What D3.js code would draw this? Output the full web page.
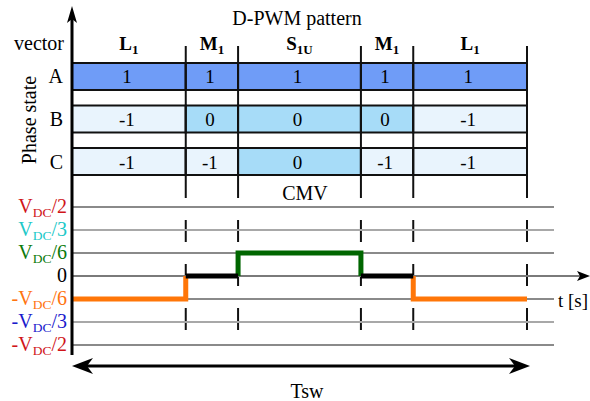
<!DOCTYPE html>
<html><head><meta charset="utf-8">
<script src="https://cdn.jsdelivr.net/npm/d3@7"></script>
<style>
html,body{margin:0;padding:0;background:#fff;}
svg{display:block;}
svg text{font-family:"Liberation Serif","Times New Roman",serif;}
</style></head>
<body>
<script>
// ---- data ----
const vectors = [
  {main:"L", sub:"1"},
  {main:"M", sub:"1"},
  {main:"S", sub:"1U"},
  {main:"M", sub:"1"},
  {main:"L", sub:"1"}
];
const bounds = [0, 0.25, 0.365, 0.635, 0.75, 1.0];   // normalized time within Tsw
const phases = ["A", "B", "C"];
const phaseA = [1, 1, 1, 1, 1];
const phaseB = [-1, 0, 0, 0, -1];
const phaseC = [-1, -1, 0, -1, -1];
const cmv = [-1/6, 0, 1/6, 0, -1/6];                 // in units of VDC
const levelValues = [1/2, 1/3, 1/6, 0, -1/6, -1/3, -1/2];
const levelLabels = [
  {sign:"", den:"2", color:"#d0141a"},
  {sign:"", den:"3", color:"#20c8c8"},
  {sign:"", den:"6", color:"#0b7a0b"},
  {sign:"0", den:null, color:"#000"},
  {sign:"-", den:"6", color:"#ff7410"},
  {sign:"-", den:"3", color:"#1a1acc"},
  {sign:"-", den:"2", color:"#d0141a"}
];

const W = 590, H = 401;
const svg = d3.select("body").append("svg").attr("width", W).attr("height", H)
  .attr("font-family", "Liberation Serif, Times New Roman, serif");

const x = d3.scaleLinear().domain([0, 1]).range([72, 527]);
const y = d3.scaleLinear().domain([-0.5, 0.5]).range([345, 207]);
const rowY = d3.scaleBand().domain(phases).range([63, 175]).paddingInner(0.365);
const cellColor = d3.scaleOrdinal().domain([1, 0, -1]).range(["#6f9cf7", "#a7dcf8", "#e9f4fd"]);
const levelColor = v => v > 0 ? "#006600" : (v < 0 ? "#ff7608" : "#000");
const rowsData = {A: phaseA, B: phaseB, C: phaseC};

// title
svg.append("text").attr("x", 297).attr("y", 25).attr("text-anchor", "middle")
  .attr("font-size", 20).text("D-PWM pattern");
svg.append("text").attr("x", 64).attr("y", 50).attr("text-anchor", "end")
  .attr("font-size", 20).text("vector");

// vector headers
vectors.forEach((v, i) => {
  const cx = (x(bounds[i]) + x(bounds[i + 1])) / 2;
  const t = svg.append("text").attr("x", cx).attr("y", 50).attr("text-anchor", "middle")
    .attr("font-size", 19).attr("font-weight", "bold");
  t.append("tspan").text(v.main);
  t.append("tspan").attr("font-size", 13).attr("dy", 4).text(v.sub);
});

// cells
phases.forEach(p => {
  const g = svg.append("g");
  rowsData[p].forEach((val, i) => {
    g.append("rect").attr("x", x(bounds[i])).attr("y", rowY(p))
      .attr("width", x(bounds[i + 1]) - x(bounds[i])).attr("height", rowY.bandwidth())
      .attr("fill", cellColor(val)).attr("stroke", "#111").attr("stroke-width", 2);
    g.append("text").attr("x", (x(bounds[i]) + x(bounds[i + 1])) / 2 - 2)
      .attr("y", rowY(p) + rowY.bandwidth() / 2 + 7)
      .attr("text-anchor", "middle").attr("font-size", 19).text(val);
  });
  svg.append("text").attr("x", 63).attr("y", rowY(p) + rowY.bandwidth() / 2 + 7)
    .attr("text-anchor", "end").attr("font-size", 20).text(p);
});

svg.append("text").attr("transform", "translate(36,120) rotate(-90)")
  .attr("text-anchor", "middle").attr("font-size", 20).text("Phase state");

// boundary lines
bounds.slice(1).forEach(b => {
  svg.append("line").attr("x1", x(b)).attr("x2", x(b)).attr("y1", 46).attr("y2", 175)
    .attr("stroke", "#111").attr("stroke-width", 2);
  svg.append("line").attr("x1", x(b)).attr("x2", x(b)).attr("y1", 176).attr("y2", 332)
    .attr("stroke", "#111").attr("stroke-width", 2).attr("stroke-dasharray", "22,22");
});

// CMV text
svg.append("text").attr("x", 305).attr("y", 200).attr("text-anchor", "middle")
  .attr("font-size", 20).text("CMV");

// level grid lines & labels
levelValues.forEach((v, i) => {
  const lbl = levelLabels[i];
  if (v !== 0) {
    svg.append("line").attr("x1", 72).attr("x2", 554).attr("y1", y(v)).attr("y2", y(v))
      .attr("stroke", Math.abs(v) > 0.3 && Math.abs(v) < 0.4 ? "#a8a8a8" : "#8a8a8a").attr("stroke-width", 2);
  } else {
    svg.append("line").attr("x1", 72).attr("x2", 580).attr("y1", y(v)).attr("y2", y(v))
      .attr("stroke", "#7a7a7a").attr("stroke-width", 2);
    svg.append("path").attr("d", `M590,${y(0)} L577,${y(0) - 5} L580,${y(0)} L577,${y(0) + 5} Z`)
      .attr("fill", "#000");
  }
  const t = svg.append("text").attr("x", 67).attr("y", y(v) + 6).attr("text-anchor", "end")
    .attr("font-size", 20).attr("fill", lbl.color);
  if (lbl.den === null) { t.text(lbl.sign); return; }
  t.append("tspan").text(lbl.sign + "V");
  t.append("tspan").attr("font-size", 13.5).attr("dy", 4).text("DC");
  t.append("tspan").attr("dy", -4).text("/" + lbl.den);
});

svg.append("text").attr("x", 558).attr("y", 307).attr("font-size", 19).text("t [s]");

// CMV step line
const segs = cmv.map((v, i) => ({v, i}));
const drawSeg = s => {
  const x0 = x(bounds[s.i]), x1 = x(bounds[s.i + 1]);
  let d;
  if (s.v === 0) {
    d = `M${x0},${y(0)} H${x1}`;
  } else {
    d = (s.i > 0 ? `M${x0},${y(0)} V${y(s.v)}` : `M${x0},${y(s.v)}`) + ` H${x1}` +
        (s.i < cmv.length - 1 ? ` V${y(0)}` : "");
  }
  svg.append("path").attr("d", d).attr("fill", "none").attr("stroke", levelColor(s.v))
    .attr("stroke-width", 5).attr("stroke-linejoin", "miter").attr("stroke-linecap", "butt");
};
segs.filter(s => s.v !== 0).forEach(drawSeg);
segs.filter(s => s.v === 0).forEach(drawSeg);

// vertical axis with arrow
svg.append("line").attr("x1", 72).attr("x2", 72).attr("y1", 18).attr("y2", 355)
  .attr("stroke", "#000").attr("stroke-width", 3);
svg.append("path").attr("d", "M72,6 L77,23 L72,19 L67,23 Z").attr("fill", "#000");

// Tsw double arrow
const ty = 366;
svg.append("line").attr("x1", x(0) + 8).attr("x2", x(1) - 6).attr("y1", ty).attr("y2", ty)
  .attr("stroke", "#000").attr("stroke-width", 3);
svg.append("path").attr("d", `M${x(0)},${ty} L${x(0) + 21},${ty - 8} L${x(0) + 15},${ty} L${x(0) + 21},${ty + 8} Z`).attr("fill", "#000");
svg.append("path").attr("d", `M${x(1) + 3},${ty} L${x(1) - 18},${ty - 8} L${x(1) - 12},${ty} L${x(1) - 18},${ty + 8} Z`).attr("fill", "#000");
svg.append("text").attr("x", 307).attr("y", 398).attr("text-anchor", "middle")
  .attr("font-size", 20).text("Tsw");
</script>
</body></html>
